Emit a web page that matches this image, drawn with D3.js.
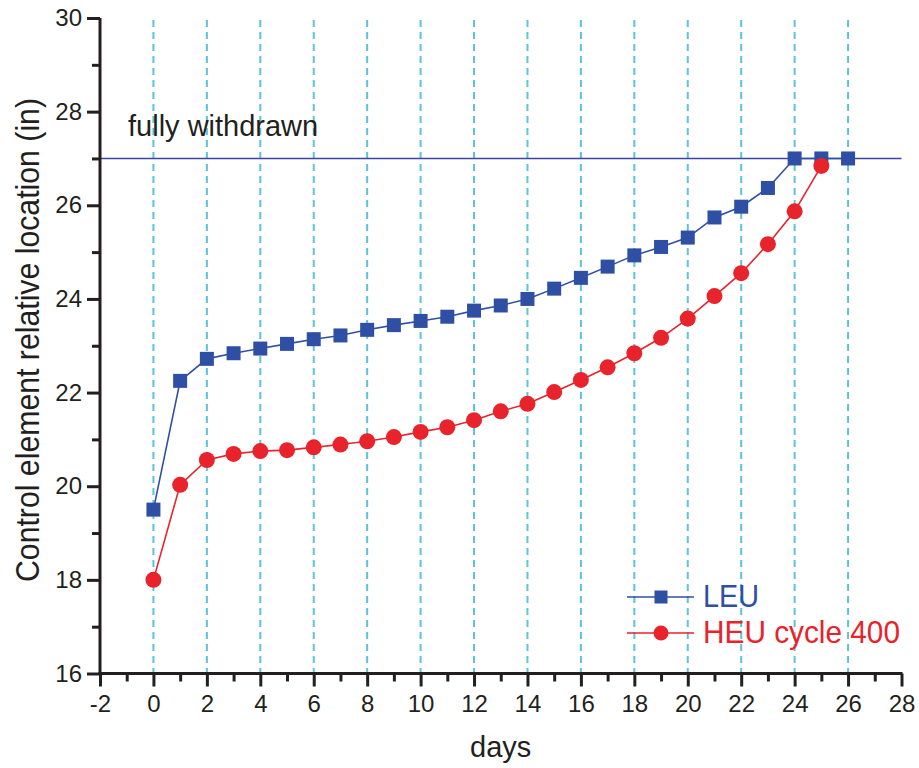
<!DOCTYPE html>
<html>
<head>
<meta charset="utf-8">
<script src="https://cdn.jsdelivr.net/npm/d3@7"></script>
<style>
  html, body { margin: 0; padding: 0; background: #fff; }
  svg { display: block; font-family: "Liberation Sans", Arial, Helvetica, sans-serif; }
</style>
</head>
<body>
<svg id="chart" width="919" height="768"></svg>
<script>
// Days of operation
const days = [0,1,2,3,4,5,6,7,8,9,10,11,12,13,14,15,16,17,18,19,20,21,22,23,24,25,26];
// LEU control element position (in)
const leuValues = [19.5,22.25,22.72,22.84,22.94,23.04,23.14,23.22,23.34,23.44,23.53,23.62,23.75,23.86,24.0,24.22,24.45,24.69,24.93,25.11,25.31,25.74,25.97,26.37,27.0,27.0,27.0];
// HEU cycle 400 control element position (in), ends at day 25
const heuDays = [0,1,2,3,4,5,6,7,8,9,10,11,12,13,14,15,16,17,18,19,20,21,22,23,24,25];
const heuValues = [18.0,20.03,20.56,20.69,20.75,20.77,20.83,20.89,20.96,21.05,21.16,21.26,21.41,21.6,21.76,22.01,22.27,22.54,22.84,23.17,23.58,24.06,24.55,25.17,25.87,26.84];
// Axis ticks
const xMajorTicks = [-2,0,2,4,6,8,10,12,14,16,18,20,22,24,26,28];
const xMinorTicks = [-1,1,3,5,7,9,11,13,15,17,19,21,23,25,27];
const yMajorTicks = [16,18,20,22,24,26,28,30];
const yMinorTicks = [17,19,21,23,25,27,29];
const gridDays = [0,2,4,6,8,10,12,14,16,18,20,22,24,26];
const fullyWithdrawn = 27;
const legendLabels = ["LEU", "HEU cycle 400"];

const BLUE = "#2e4fa3";
const RED = "#e8232b";
const AXIS = "#231f20";
const GRID = "#5cc4d9";
const REF = "#3d43a0";

const svg = d3.select("#chart");
const plot = { left: 100, right: 901.5, top: 18, bottom: 673.5 };

const x = d3.scaleLinear().domain([-2, 28]).range([plot.left, plot.right]);
const y = d3.scaleLinear().domain([16, 30]).range([plot.bottom, plot.top]);
const plainNumber = d => String(d);

// vertical dashed guides
svg.append("g").selectAll("line").data(gridDays).join("line")
  .attr("x1", d => x(d)).attr("x2", d => x(d))
  .attr("y1", y(30) + 2).attr("y2", plot.bottom)
  .attr("stroke", GRID).attr("stroke-width", 2)
  .attr("stroke-dasharray", "7,5");

// fully withdrawn reference
svg.append("line")
  .attr("x1", plot.left).attr("x2", plot.right)
  .attr("y1", y(fullyWithdrawn)).attr("y2", y(fullyWithdrawn))
  .attr("stroke", REF).attr("stroke-width", 1.5);

svg.append("text")
  .attr("x", 128).attr("y", 136)
  .attr("font-size", 29).attr("fill", AXIS)
  .text("fully withdrawn");

// x axis
const xAxis = svg.append("g").attr("transform", `translate(0,${plot.bottom})`);
xAxis.call(d3.axisBottom(x).tickValues(xMajorTicks).tickSize(13).tickPadding(8).tickFormat(plainNumber));
xAxis.append("g").call(d3.axisBottom(x).tickValues(xMinorTicks).tickSize(8).tickFormat(""));
xAxis.selectAll("g g .domain").remove();
xAxis.select(".domain").attr("stroke", AXIS).attr("stroke-width", 3)
  .attr("d", `M${plot.left - 1.5},0H${plot.right + 1}`);
xAxis.selectAll(".tick line").attr("stroke", AXIS).attr("stroke-width", 3);
xAxis.selectAll(".tick text").attr("font-size", 24).attr("fill", AXIS)
  .attr("font-family", "Liberation Sans, Arial, sans-serif");

// y axis
const yAxis = svg.append("g").attr("transform", `translate(${plot.left},0)`);
yAxis.call(d3.axisLeft(y).tickValues(yMajorTicks).tickSize(13).tickPadding(5).tickFormat(plainNumber));
yAxis.append("g").call(d3.axisLeft(y).tickValues(yMinorTicks).tickSize(8).tickFormat(""));
yAxis.selectAll("g g .domain").remove();
yAxis.select(".domain").attr("stroke", AXIS).attr("stroke-width", 3)
  .attr("d", `M0,${plot.top}V${plot.bottom + 1.5}`);
yAxis.selectAll(".tick line").attr("stroke", AXIS).attr("stroke-width", 3);
yAxis.selectAll(".tick text").attr("font-size", 24).attr("fill", AXIS)
  .attr("font-family", "Liberation Sans, Arial, sans-serif");

// axis titles
svg.append("text")
  .attr("x", (plot.left + plot.right) / 2).attr("y", 757)
  .attr("text-anchor", "middle").attr("font-size", 29).attr("fill", AXIS)
  .text("days");

svg.append("text")
  .attr("transform", `translate(38.5,340) rotate(-90)`)
  .attr("text-anchor", "middle").attr("font-size", 33).attr("fill", AXIS)
  .attr("textLength", 484).attr("lengthAdjust", "spacingAndGlyphs")
  .text("Control element relative location (in)");

// series
const line = d3.line().x(d => x(d[0])).y(d => y(d[1]));
const leu = days.map((d, i) => [d, leuValues[i]]);
const heu = heuDays.map((d, i) => [d, heuValues[i]]);

svg.append("path").datum(leu).attr("d", line)
  .attr("fill", "none").attr("stroke", BLUE).attr("stroke-width", 1.6);
const sq = 14;
svg.append("g").selectAll("rect").data(leu).join("rect")
  .attr("x", d => x(d[0]) - sq / 2).attr("y", d => y(d[1]) - sq / 2)
  .attr("width", sq).attr("height", sq).attr("fill", BLUE);

svg.append("path").datum(heu).attr("d", line)
  .attr("fill", "none").attr("stroke", RED).attr("stroke-width", 1.6);
svg.append("g").selectAll("circle").data(heu).join("circle")
  .attr("cx", d => x(d[0])).attr("cy", d => y(d[1])).attr("r", 8)
  .attr("fill", RED);

// legend
const legend = svg.append("g");
const legendY = [597, 633];
const legendColors = [BLUE, RED];
const legendWidths = [56, 197];
legendLabels.forEach((label, i) => {
  legend.append("line")
    .attr("x1", 627).attr("x2", 694)
    .attr("y1", legendY[i]).attr("y2", legendY[i])
    .attr("stroke", legendColors[i]).attr("stroke-width", 1.6);
  if (i === 0) {
    legend.append("rect").attr("x", 661 - 6.5).attr("y", legendY[i] - 6.5)
      .attr("width", 13).attr("height", 13).attr("fill", BLUE);
  } else {
    legend.append("circle").attr("cx", 661).attr("cy", legendY[i]).attr("r", 7.5).attr("fill", RED);
  }
  legend.append("text")
    .attr("x", 703).attr("y", legendY[i] + 10)
    .attr("font-size", 32).attr("fill", legendColors[i])
    .attr("textLength", legendWidths[i]).attr("lengthAdjust", "spacingAndGlyphs")
    .text(label);
});
</script>
</body>
</html>
